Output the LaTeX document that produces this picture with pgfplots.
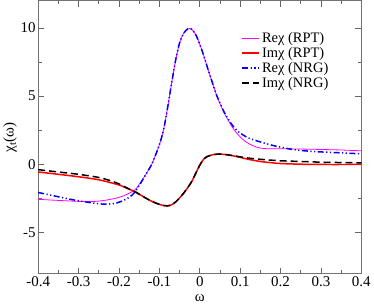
\documentclass[border=0pt]{standalone}
\usepackage{fontspec}
\setmainfont{Liberation Serif}
\usepackage{pgfplots}
\pgfplotsset{compat=1.18}
\definecolor{cRe}{RGB}{255,0,255}
\definecolor{cIm}{RGB}{255,0,0}
\definecolor{cNRG}{RGB}{0,0,255}
\begin{document}
\begin{tikzpicture}
\begin{axis}[
  scale only axis, width=324pt, height=274pt,
  xmin=-0.4, xmax=0.4, ymin=-8, ymax=12,
  xtick={-0.4,-0.3,-0.2,-0.1,0,0.1,0.2,0.3,0.4},
  xticklabels={-0.4,-0.3,-0.2,-0.1,0,0.1,0.2,0.3,0.4},
  ytick={-5,0,5,10},
  yticklabels={-5,0,5,10},
  minor x tick num=1, minor y tick num=1,
  tick align=inside, major tick length=6pt, minor tick length=3.5pt,
  axis line style={line width=1.1pt, black!55},
  every tick/.style={black!60, line width=0.7pt},
  tick label style={font=\fontsize{15}{16}\selectfont},
  xticklabel style={yshift=1pt},
  yticklabel style={xshift=1pt},
  xlabel={ω}, ylabel={χ\textsubscript{t}(ω)},
  label style={font=\fontsize{15}{16}\selectfont},
  xlabel style={yshift=-1pt},
  ylabel style={yshift=-3pt},
  legend style={draw=none, fill=none, at={(0.625,0.895)}, anchor=north west,
    font=\fontsize{14.5}{15}\selectfont, row sep=-0.5pt, inner sep=1pt},
  legend cell align=left,
]
\addlegendimage{draw=cRe, line width=0.8pt, line legend}
\addlegendentry{Reχ (RPT)}
\addlegendimage{draw=cIm, line width=1.7pt, line legend}
\addlegendentry{Imχ (RPT)}
\addlegendimage{draw=cNRG, line width=1.5pt, line legend,
  dash pattern=on 6pt off 2.5pt on 1.2pt off 2.5pt on 1.2pt off 2.5pt}
\addlegendentry{Reχ (NRG)}
\addlegendimage{draw=black, line width=1.5pt, line legend, dash pattern=on 7pt off 4pt}
\addlegendentry{Imχ (NRG)}
\addplot[cRe, line width=0.8pt, smooth, forget plot] coordinates {
(-0.40,-2.55) (-0.35,-2.63) (-0.30,-2.70) (-0.26,-2.70) (-0.23,-2.60)
(-0.20,-2.41) (-0.18,-2.18) (-0.16,-1.85) (-0.15,-1.45) (-0.14,-1.02)
(-0.13,-0.55) (-0.12,-0.05) (-0.11,0.65) (-0.10,1.45) (-0.09,2.5)
(-0.08,4.1) (-0.07,5.9) (-0.06,7.6) (-0.05,8.9) (-0.04,9.6) (-0.03,9.92)
(-0.025,9.95) (-0.02,9.9) (-0.01,9.5) (0.0,8.8) (0.01,7.95) (0.02,7.0)
(0.03,6.1) (0.04,5.2) (0.05,4.45) (0.06,3.8) (0.07,3.25) (0.08,2.75)
(0.09,2.35) (0.10,2.02) (0.11,1.75) (0.12,1.55) (0.13,1.4) (0.14,1.28)
(0.15,1.2) (0.17,1.15) (0.20,1.15) (0.25,1.13) (0.30,1.10) (0.35,1.06) (0.40,1.00)
};
\addplot[cIm, line width=1.5pt, smooth, forget plot] coordinates {
(-0.40,-0.55) (-0.35,-0.72) (-0.30,-0.90) (-0.25,-1.12) (-0.20,-1.50)
(-0.18,-1.75) (-0.16,-2.0) (-0.14,-2.35) (-0.12,-2.68) (-0.10,-2.92)
(-0.09,-3.0) (-0.08,-3.03) (-0.07,-2.95) (-0.06,-2.75) (-0.05,-2.45)
(-0.04,-2.1) (-0.03,-1.7) (-0.02,-1.25) (-0.01,-0.65) (0.0,-0.05)
(0.01,0.4) (0.02,0.6) (0.03,0.7) (0.045,0.76) (0.06,0.74) (0.08,0.65)
(0.10,0.52) (0.12,0.38) (0.15,0.22) (0.18,0.12) (0.20,0.07) (0.25,0.02)
(0.30,0.0) (0.40,0.0)
};
\addplot[cNRG, line width=1.5pt, smooth, forget plot,
  dash pattern=on 6pt off 2.5pt on 1.2pt off 2.5pt on 1.2pt off 2.5pt] coordinates {
(-0.40,-2.05) (-0.36,-2.30) (-0.32,-2.55) (-0.28,-2.75) (-0.25,-2.88)
(-0.23,-2.90) (-0.21,-2.85) (-0.19,-2.65) (-0.18,-2.5) (-0.17,-2.3)
(-0.16,-2.0) (-0.15,-1.55) (-0.14,-1.05) (-0.13,-0.55) (-0.12,-0.05)
(-0.11,0.65) (-0.10,1.45) (-0.09,2.5)
(-0.08,4.1) (-0.07,5.9) (-0.06,7.6) (-0.05,8.9) (-0.04,9.6) (-0.03,9.92)
(-0.025,9.95) (-0.02,9.9) (-0.01,9.5) (0.0,8.8) (0.01,7.95) (0.02,7.0)
(0.03,6.1) (0.04,5.2) (0.05,4.5) (0.06,3.85) (0.07,3.35) (0.08,2.9)
(0.09,2.55) (0.10,2.3) (0.12,1.95) (0.15,1.65) (0.18,1.4) (0.20,1.27)
(0.23,1.1) (0.26,1.0) (0.30,0.92) (0.35,0.85) (0.40,0.78)
};
\addplot[black, line width=1.5pt, smooth, forget plot, dash pattern=on 7pt off 4pt] coordinates {
(-0.40,-0.38) (-0.35,-0.55) (-0.30,-0.72) (-0.25,-0.95) (-0.22,-1.2)
(-0.20,-1.42) (-0.18,-1.72) (-0.16,-2.0) (-0.14,-2.35) (-0.12,-2.68) (-0.10,-2.92)
(-0.09,-3.0) (-0.08,-3.03) (-0.07,-2.95) (-0.06,-2.75) (-0.05,-2.45)
(-0.04,-2.1) (-0.03,-1.7) (-0.02,-1.25) (-0.01,-0.65) (0.0,-0.05)
(0.01,0.4) (0.02,0.6) (0.03,0.7) (0.045,0.76) (0.06,0.74) (0.08,0.66)
(0.10,0.56) (0.12,0.47) (0.15,0.38) (0.18,0.31) (0.20,0.27) (0.25,0.22)
(0.30,0.17) (0.35,0.14) (0.40,0.12)
};
\end{axis}
\end{tikzpicture}
\end{document}
